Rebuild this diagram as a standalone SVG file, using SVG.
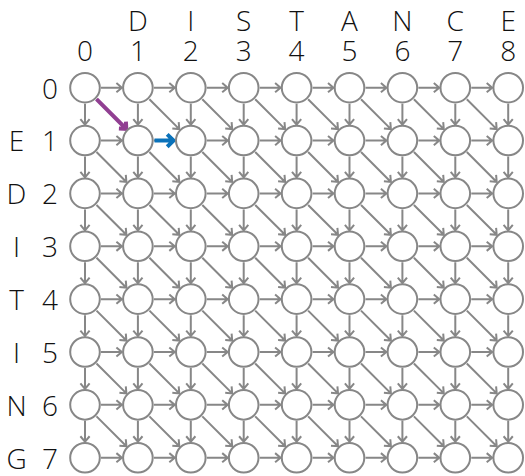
<svg xmlns="http://www.w3.org/2000/svg" xmlns:xlink="http://www.w3.org/1999/xlink" width="525" height="476" viewBox="0 0 525 476">
<style>
.e{fill:none;stroke:#878787;stroke-width:2;stroke-linejoin:miter}
.n{fill:#fff;stroke:#878787;stroke-width:2}
.t{font-family:"Open Sans","Noto Sans","DejaVu Sans",sans-serif;font-weight:300;font-size:28px;fill:#111;text-anchor:middle}
.p{fill:none;stroke:#913f92;stroke-width:4}
.b{fill:none;stroke:#0a72ba;stroke-width:4}
</style>
<defs>
<path id="ah" d="M16,0H36.9M31.4,-4.6L36.9,0L31.4,4.6"/>
<path id="av" d="M0,16V36.9M-4.6,31.4L0,36.9L4.6,31.4"/>
<path id="ad" d="M11.5,11.5L41.4,41.4M34.4,40.8L41.4,41.4L40.8,34.4"/>
<g id="hrow">
<use href="#ah" x="0"/><use href="#ah" x="52.9"/><use href="#ah" x="105.8"/><use href="#ah" x="158.7"/>
<use href="#ah" x="211.6"/><use href="#ah" x="264.5"/><use href="#ah" x="317.4"/><use href="#ah" x="370.3"/>
</g>
<g id="vrow">
<use href="#av" x="0"/><use href="#av" x="52.9"/><use href="#av" x="105.8"/><use href="#av" x="158.7"/>
<use href="#av" x="211.6"/><use href="#av" x="264.5"/><use href="#av" x="317.4"/><use href="#av" x="370.3"/><use href="#av" x="423.2"/>
<use href="#ad" x="0"/><use href="#ad" x="52.9"/><use href="#ad" x="105.8"/><use href="#ad" x="158.7"/>
<use href="#ad" x="211.6"/><use href="#ad" x="264.5"/><use href="#ad" x="317.4"/><use href="#ad" x="370.3"/>
</g>
</defs>
<g id="labels" class="t">
<text x="137.9" y="30.5">D</text><text x="190.8" y="30.5">I</text><text x="243.7" y="30.5">S</text><text x="296.6" y="30.5">T</text>
<text x="349.5" y="30.5">A</text><text x="402.4" y="30.5">N</text><text x="455.3" y="30.5">C</text><text x="508.2" y="30.5">E</text>
<text x="85" y="60.8">0</text><text x="137.9" y="60.8">1</text><text x="190.8" y="60.8">2</text><text x="243.7" y="60.8">3</text>
<text x="296.6" y="60.8">4</text><text x="349.5" y="60.8">5</text><text x="402.4" y="60.8">6</text><text x="455.3" y="60.8">7</text><text x="508.2" y="60.8">8</text>
<text x="50" y="98.5">0</text>
<text x="16.5" y="151.4">E</text><text x="50" y="151.4">1</text>
<text x="16.5" y="204.2">D</text><text x="50" y="204.2">2</text>
<text x="16.5" y="257.1">I</text><text x="50" y="257.1">3</text>
<text x="16.5" y="309.9">T</text><text x="50" y="309.9">4</text>
<text x="16.5" y="362.8">I</text><text x="50" y="362.8">5</text>
<text x="16.5" y="415.7">N</text><text x="50" y="415.7">6</text>
<text x="16.5" y="468.5">G</text><text x="50" y="468.5">7</text>
</g>
<g id="connectors" class="e">
<use href="#hrow" x="85" y="87.7"/><use href="#hrow" x="85" y="140.56"/><use href="#hrow" x="85" y="193.42"/><use href="#hrow" x="85" y="246.28"/>
<use href="#hrow" x="85" y="299.14"/><use href="#hrow" x="85" y="352"/><use href="#hrow" x="85" y="404.86"/><use href="#hrow" x="85" y="457.72"/>
<use href="#vrow" x="85" y="87.7"/><use href="#vrow" x="85" y="140.56"/><use href="#vrow" x="85" y="193.42"/><use href="#vrow" x="85" y="246.28"/>
<use href="#vrow" x="85" y="299.14"/><use href="#vrow" x="85" y="352"/><use href="#vrow" x="85" y="404.86"/>
<path class="p" d="M96.5,99.2L126.3,129M118.9,128.6L126.3,129L125.9,121.6"/>
<path class="b" d="M154.5,140.56H173.5M167.2,134.4L173.5,140.56L167.2,146.7"/>
</g>
<g id="nodes">
<g id="n0-0"><circle class="n" cx="85" cy="87.7" r="14.8"/></g><g id="n0-1"><circle class="n" cx="137.9" cy="87.7" r="14.8"/></g><g id="n0-2"><circle class="n" cx="190.8" cy="87.7" r="14.8"/></g><g id="n0-3"><circle class="n" cx="243.7" cy="87.7" r="14.8"/></g><g id="n0-4"><circle class="n" cx="296.6" cy="87.7" r="14.8"/></g><g id="n0-5"><circle class="n" cx="349.5" cy="87.7" r="14.8"/></g><g id="n0-6"><circle class="n" cx="402.4" cy="87.7" r="14.8"/></g><g id="n0-7"><circle class="n" cx="455.3" cy="87.7" r="14.8"/></g><g id="n0-8"><circle class="n" cx="508.2" cy="87.7" r="14.8"/></g>
<g id="n1-0"><circle class="n" cx="85" cy="140.56" r="14.8"/></g><g id="n1-1"><circle class="n" cx="137.9" cy="140.56" r="14.8"/></g><g id="n1-2"><circle class="n" cx="190.8" cy="140.56" r="14.8"/></g><g id="n1-3"><circle class="n" cx="243.7" cy="140.56" r="14.8"/></g><g id="n1-4"><circle class="n" cx="296.6" cy="140.56" r="14.8"/></g><g id="n1-5"><circle class="n" cx="349.5" cy="140.56" r="14.8"/></g><g id="n1-6"><circle class="n" cx="402.4" cy="140.56" r="14.8"/></g><g id="n1-7"><circle class="n" cx="455.3" cy="140.56" r="14.8"/></g><g id="n1-8"><circle class="n" cx="508.2" cy="140.56" r="14.8"/></g>
<g id="n2-0"><circle class="n" cx="85" cy="193.42" r="14.8"/></g><g id="n2-1"><circle class="n" cx="137.9" cy="193.42" r="14.8"/></g><g id="n2-2"><circle class="n" cx="190.8" cy="193.42" r="14.8"/></g><g id="n2-3"><circle class="n" cx="243.7" cy="193.42" r="14.8"/></g><g id="n2-4"><circle class="n" cx="296.6" cy="193.42" r="14.8"/></g><g id="n2-5"><circle class="n" cx="349.5" cy="193.42" r="14.8"/></g><g id="n2-6"><circle class="n" cx="402.4" cy="193.42" r="14.8"/></g><g id="n2-7"><circle class="n" cx="455.3" cy="193.42" r="14.8"/></g><g id="n2-8"><circle class="n" cx="508.2" cy="193.42" r="14.8"/></g>
<g id="n3-0"><circle class="n" cx="85" cy="246.28" r="14.8"/></g><g id="n3-1"><circle class="n" cx="137.9" cy="246.28" r="14.8"/></g><g id="n3-2"><circle class="n" cx="190.8" cy="246.28" r="14.8"/></g><g id="n3-3"><circle class="n" cx="243.7" cy="246.28" r="14.8"/></g><g id="n3-4"><circle class="n" cx="296.6" cy="246.28" r="14.8"/></g><g id="n3-5"><circle class="n" cx="349.5" cy="246.28" r="14.8"/></g><g id="n3-6"><circle class="n" cx="402.4" cy="246.28" r="14.8"/></g><g id="n3-7"><circle class="n" cx="455.3" cy="246.28" r="14.8"/></g><g id="n3-8"><circle class="n" cx="508.2" cy="246.28" r="14.8"/></g>
<g id="n4-0"><circle class="n" cx="85" cy="299.14" r="14.8"/></g><g id="n4-1"><circle class="n" cx="137.9" cy="299.14" r="14.8"/></g><g id="n4-2"><circle class="n" cx="190.8" cy="299.14" r="14.8"/></g><g id="n4-3"><circle class="n" cx="243.7" cy="299.14" r="14.8"/></g><g id="n4-4"><circle class="n" cx="296.6" cy="299.14" r="14.8"/></g><g id="n4-5"><circle class="n" cx="349.5" cy="299.14" r="14.8"/></g><g id="n4-6"><circle class="n" cx="402.4" cy="299.14" r="14.8"/></g><g id="n4-7"><circle class="n" cx="455.3" cy="299.14" r="14.8"/></g><g id="n4-8"><circle class="n" cx="508.2" cy="299.14" r="14.8"/></g>
<g id="n5-0"><circle class="n" cx="85" cy="352" r="14.8"/></g><g id="n5-1"><circle class="n" cx="137.9" cy="352" r="14.8"/></g><g id="n5-2"><circle class="n" cx="190.8" cy="352" r="14.8"/></g><g id="n5-3"><circle class="n" cx="243.7" cy="352" r="14.8"/></g><g id="n5-4"><circle class="n" cx="296.6" cy="352" r="14.8"/></g><g id="n5-5"><circle class="n" cx="349.5" cy="352" r="14.8"/></g><g id="n5-6"><circle class="n" cx="402.4" cy="352" r="14.8"/></g><g id="n5-7"><circle class="n" cx="455.3" cy="352" r="14.8"/></g><g id="n5-8"><circle class="n" cx="508.2" cy="352" r="14.8"/></g>
<g id="n6-0"><circle class="n" cx="85" cy="404.86" r="14.8"/></g><g id="n6-1"><circle class="n" cx="137.9" cy="404.86" r="14.8"/></g><g id="n6-2"><circle class="n" cx="190.8" cy="404.86" r="14.8"/></g><g id="n6-3"><circle class="n" cx="243.7" cy="404.86" r="14.8"/></g><g id="n6-4"><circle class="n" cx="296.6" cy="404.86" r="14.8"/></g><g id="n6-5"><circle class="n" cx="349.5" cy="404.86" r="14.8"/></g><g id="n6-6"><circle class="n" cx="402.4" cy="404.86" r="14.8"/></g><g id="n6-7"><circle class="n" cx="455.3" cy="404.86" r="14.8"/></g><g id="n6-8"><circle class="n" cx="508.2" cy="404.86" r="14.8"/></g>
<g id="n7-0"><circle class="n" cx="85" cy="457.72" r="14.8"/></g><g id="n7-1"><circle class="n" cx="137.9" cy="457.72" r="14.8"/></g><g id="n7-2"><circle class="n" cx="190.8" cy="457.72" r="14.8"/></g><g id="n7-3"><circle class="n" cx="243.7" cy="457.72" r="14.8"/></g><g id="n7-4"><circle class="n" cx="296.6" cy="457.72" r="14.8"/></g><g id="n7-5"><circle class="n" cx="349.5" cy="457.72" r="14.8"/></g><g id="n7-6"><circle class="n" cx="402.4" cy="457.72" r="14.8"/></g><g id="n7-7"><circle class="n" cx="455.3" cy="457.72" r="14.8"/></g><g id="n7-8"><circle class="n" cx="508.2" cy="457.72" r="14.8"/></g>
</g>
</svg>
